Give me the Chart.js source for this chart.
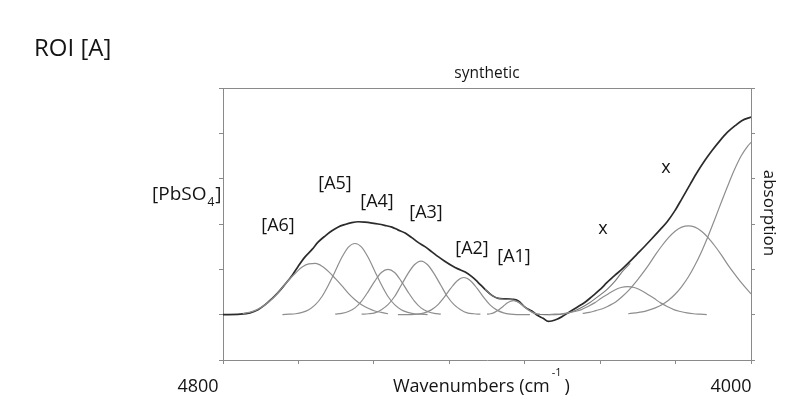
<!DOCTYPE html>
<html><head><meta charset="utf-8">
<script src="https://cdn.jsdelivr.net/npm/chart.js@4.4.0/dist/chart.umd.min.js"></script>
<style>html,body{margin:0;padding:0;background:#fff;}canvas{display:block;}</style>
</head><body>
<canvas id="c" width="789" height="403"></canvas>
<script>
// ---- data (wavenumber in cm-1, absorbance in arbitrary units) ----
const mainWn = [4800,4774,4759,4747,4736,4726,4717,4706,4695,4686,4676,4665,4656,4645,4635,4626,4615,4605,4595,4585,4574,4565,4555,4544,4535,4524,4514,4505,4494,4483,4474,4464,4453,4444,4433,4423,4414,4403,4392,4383,4373,4362,4353,4342,4332,4323,4315,4307,4302,4294,4285,4274,4264,4251,4241,4229,4218,4206,4195,4183,4173,4161,4150,4138,4127,4115,4105,4092,4082,4070,4059,4047,4036,4024,4014,4000];
const mainAbs = [0,0.01,0.04,0.11,0.22,0.35,0.48,0.67,0.87,1.07,1.27,1.44,1.60,1.74,1.85,1.93,1.99,2.03,2.05,2.04,2.02,2.00,1.97,1.93,1.87,1.80,1.70,1.60,1.50,1.38,1.28,1.18,1.08,1.01,0.94,0.84,0.72,0.56,0.42,0.36,0.35,0.34,0.31,0.16,0.08,-0.02,-0.08,-0.15,-0.14,-0.10,-0.03,0.07,0.16,0.28,0.40,0.55,0.71,0.87,1.01,1.18,1.33,1.51,1.68,1.87,2.05,2.30,2.55,2.88,3.13,3.40,3.62,3.84,4.02,4.17,4.28,4.36];

const fitWn  = [4403,4392,4383,4373,4362,4353,4342,4332,4323,4312,4297,4282,4270,4259,4244,4229,4218,4206,4195,4183];
const fitAbs = [0.56,0.42,0.36,0.34,0.33,0.28,0.16,0.06,0.01,0.0,0.0,0.02,0.07,0.14,0.27,0.43,0.56,0.74,0.95,1.13];

const a6Wn  = [4770,4760,4750,4740,4730,4720,4710,4700,4690,4680,4670,4660,4650,4640,4630,4620,4610,4600,4590,4580,4570,4560,4550];
const a6Abs = [0.03,0.05,0.10,0.18,0.29,0.43,0.60,0.77,0.92,1.05,1.12,1.13,1.07,0.95,0.80,0.64,0.47,0.33,0.22,0.14,0.08,0.05,0.02];
const a5Wn  = [4710,4700,4690,4680,4670,4660,4650,4640,4630,4620,4610,4600,4590,4580,4570,4560,4550,4540,4530,4520,4510,4500,4490];
const a5Abs = [0.00,0.01,0.02,0.05,0.11,0.22,0.40,0.66,0.96,1.26,1.49,1.57,1.49,1.26,0.96,0.66,0.40,0.22,0.11,0.05,0.02,0.01,0.00];
const a4Wn  = [4630,4620,4610,4600,4590,4580,4570,4560,4550,4540,4530,4520,4510,4500,4490,4480,4470];
const a4Abs = [0.01,0.03,0.07,0.15,0.30,0.51,0.74,0.93,1.00,0.93,0.74,0.51,0.30,0.15,0.07,0.03,0.01];
const a3Wn  = [4590,4580,4570,4560,4550,4540,4530,4520,4510,4500,4490,4480,4470,4460,4450,4440,4430,4420,4410];
const a3Abs = [0.01,0.02,0.04,0.11,0.22,0.40,0.65,0.90,1.10,1.18,1.10,0.90,0.65,0.40,0.22,0.11,0.04,0.02,0.01];
const a2Wn  = [4535,4525,4515,4505,4495,4485,4475,4465,4455,4445,4435,4425,4415,4405,4395,4385,4375,4365,4355,4345,4335];
const a2Abs = [0.00,0.00,0.00,0.01,0.04,0.10,0.21,0.38,0.58,0.75,0.82,0.75,0.58,0.38,0.21,0.10,0.04,0.01,0.00,0.00,0.00];
const a1Wn  = [4400,4395,4390,4385,4380,4375,4370,4365,4360,4355,4350,4345,4340,4335,4330,4325,4320];
const a1Abs = [0.01,0.02,0.04,0.08,0.13,0.19,0.25,0.29,0.31,0.29,0.25,0.19,0.13,0.08,0.04,0.02,0.01];
const x1Wn  = [4307,4297,4287,4277,4267,4257,4247,4237,4227,4217,4207,4197,4187,4177,4167,4157,4147,4137,4127,4117,4107,4097,4087,4077,4067];
const x1Abs = [0.00,0.01,0.02,0.04,0.07,0.11,0.18,0.26,0.36,0.45,0.54,0.60,0.62,0.60,0.54,0.45,0.36,0.26,0.18,0.11,0.07,0.04,0.02,0.01,0.00];
const x2Wn  = [4255,4245,4235,4225,4215,4205,4195,4185,4175,4165,4155,4145,4135,4125,4115,4105,4095,4085,4075,4065,4055,4045,4035,4025,4015,4005,4000];
const x2Abs = [0.03,0.05,0.09,0.13,0.20,0.28,0.40,0.54,0.71,0.90,1.10,1.32,1.52,1.70,1.84,1.93,1.96,1.93,1.84,1.70,1.52,1.32,1.10,0.90,0.71,0.54,0.46];
const x3Wn  = [4186,4175,4165,4155,4145,4135,4125,4115,4105,4095,4085,4075,4065,4055,4045,4035,4025,4015,4005,4000];
const x3Abs = [0.02,0.04,0.06,0.10,0.15,0.22,0.32,0.45,0.62,0.83,1.09,1.39,1.73,2.10,2.48,2.85,3.20,3.50,3.72,3.80];

const xEndLabels = ['4800', '4000'];
const peakLabels = ['[A6]','[A5]','[A4]','[A3]','[A2]','[A1]','x','x'];

// ---- styling ----
const FONT = '"Open Sans", "Liberation Sans", sans-serif';
const AXIS = '#8a8a8a';
const TXT = '#141414';
function pts(w, v){ return w.map((x,i)=>({x:x, y:v[i]})); }
function comp(w, v){ return {data: pts(w,v), borderColor:'#8e8e8e', borderWidth:1.2, pointRadius:0, fill:false, cubicInterpolationMode:'monotone'}; }

const datasets = [
  comp(a6Wn,a6Abs), comp(a5Wn,a5Abs), comp(a4Wn,a4Abs), comp(a3Wn,a3Abs),
  comp(a2Wn,a2Abs), comp(a1Wn,a1Abs), comp(x1Wn,x1Abs), comp(x2Wn,x2Abs), comp(x3Wn,x3Abs),
  {data: pts(fitWn,fitAbs), borderColor:'#7a7a7a', borderWidth:1.1, pointRadius:0, fill:false, cubicInterpolationMode:'monotone'},
  {data: pts(mainWn,mainAbs), borderColor:'#2b2b2b', borderWidth:1.7, pointRadius:0, fill:false, cubicInterpolationMode:'monotone'}
];

// label anchors in pixels (centres)
const peakPos = [[278,226],[335,184],[377,202],[426,213],[472,249],[514,257],[603,229],[666,168]];

const textPlugin = {
  id: 'texts',
  afterDraw(chart){
    const ctx = chart.ctx, ca = chart.chartArea;
    ctx.save();
    ctx.strokeStyle = AXIS; ctx.lineWidth = 1;
    ctx.beginPath(); ctx.moveTo(ca.left, Math.round(ca.top)+0.5); ctx.lineTo(ca.right+4, Math.round(ca.top)+0.5); ctx.stroke();
    ctx.fillStyle = TXT;
    ctx.textBaseline = 'alphabetic'; ctx.textAlign = 'left';
    ctx.font = '24px ' + FONT; ctx.fillText('ROI [A]', 34, 56);
    ctx.textAlign = 'center'; ctx.font = '15.5px ' + FONT; ctx.fillText('synthetic', 487, 78);
    ctx.textAlign = 'left'; ctx.font = '19px ' + FONT;
    let x0 = 152; ctx.fillText('[PbSO', x0, 200); x0 += ctx.measureText('[PbSO').width;
    ctx.font = '12px ' + FONT; ctx.fillText('4', x0+1, 206); x0 += ctx.measureText('4').width + 2;
    ctx.font = '19px ' + FONT; ctx.fillText(']', x0, 200);
    ctx.font = '18px ' + FONT; ctx.textAlign = 'center';
    ctx.fillText(xEndLabels[0], 198, 392);
    ctx.fillText(xEndLabels[1], 731, 392);
    ctx.textAlign = 'left';
    let wx = 393; const wl = 'Wavenumbers (cm';
    ctx.fillText(wl, wx, 392); wx += ctx.measureText(wl).width;
    ctx.font = '11px ' + FONT; ctx.fillText('-1', wx+2, 376); wx += ctx.measureText('-1').width + 5;
    ctx.font = '18px ' + FONT; ctx.fillText(')', wx, 392);
    ctx.font = '18px ' + FONT; ctx.textAlign = 'center'; ctx.textBaseline = 'middle';
    peakLabels.forEach((t,i)=>ctx.fillText(t, peakPos[i][0], peakPos[i][1]));
    ctx.translate(769, 213); ctx.rotate(Math.PI/2);
    ctx.font = '17px ' + FONT; ctx.fillText('absorption', 0, 0);
    ctx.restore();
  }
};

const gridOpts = {drawOnChartArea:false, drawTicks:true, tickLength:4, color:AXIS, lineWidth:1};
new Chart(document.getElementById('c'), {
  type: 'line',
  data: {datasets},
  options: {
    responsive:false, animation:false, devicePixelRatio:1,
    layout:{padding:{top:88, left:0, right:0, bottom:0}},
    plugins:{legend:{display:false}, tooltip:{enabled:false}},
    scales:{
      x:{type:'linear', position:'bottom', reverse:true, min:4000, max:4800,
         ticks:{display:false}, grid:gridOpts, border:{color:AXIS, width:1},
         afterBuildTicks(s){ const t=[]; for(let i=0;i<=7;i++) t.push({value:4000+i*800/7}); s.ticks=t; },
         afterFit(s){ s.height = 43; }},
      y:{type:'linear', position:'left', min:-1, max:5,
         ticks:{display:false}, grid:gridOpts, border:{color:AXIS, width:1},
         afterBuildTicks(s){ const t=[]; for(let v=-1; v<=5; v++) t.push({value:v}); s.ticks=t; },
         afterFit(s){ s.width = 223; }},
      y2:{type:'linear', position:'right', min:-1, max:5,
         ticks:{display:false}, grid:gridOpts, border:{color:AXIS, width:1},
         afterBuildTicks(s){ const t=[]; for(let v=-1; v<=5; v++) t.push({value:v}); s.ticks=t; },
         afterFit(s){ s.width = 38; }}
    }
  },
  plugins:[textPlugin]
});
</script>
</body></html>
